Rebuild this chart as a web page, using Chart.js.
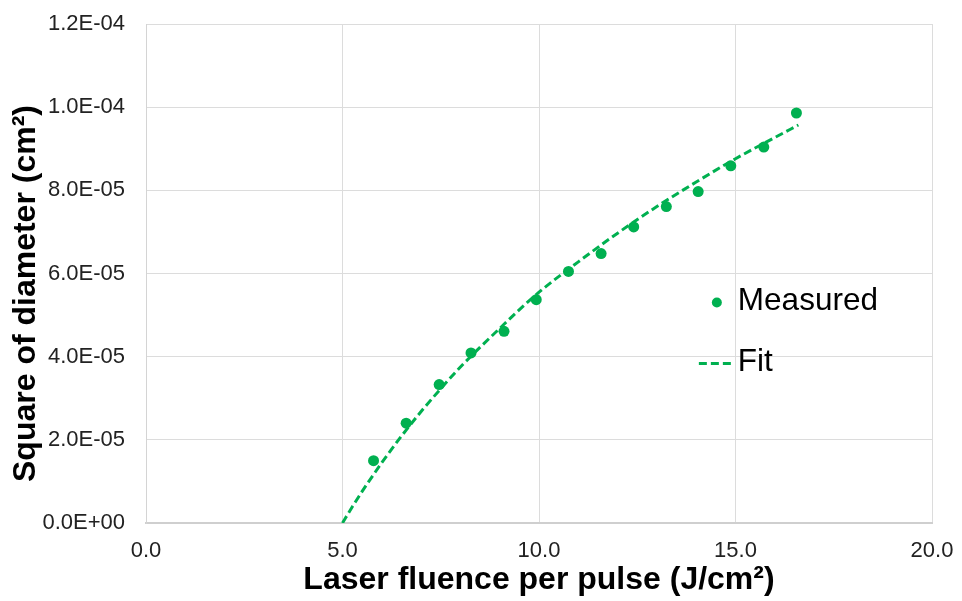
<!DOCTYPE html>
<html>
<head>
<meta charset="utf-8">
<title>Square of diameter vs laser fluence</title>
<script src="https://cdn.jsdelivr.net/npm/chart.js@4.4.1/dist/chart.umd.min.js"></script>
<style>
    html, body { margin: 0; padding: 0; background: #ffffff; }
    canvas { display: block; }
</style>
</head>
<body>
<canvas id="fluenceChart" width="962" height="601"></canvas>
<script>
// measured crater data: fluence (J/cm²) and squared diameter (cm²)
var fluence = [5.79, 6.62, 7.46, 8.27, 9.11, 9.93, 10.75, 11.58, 12.41, 13.24, 14.05, 14.88, 15.72, 16.55];
var diameterSq = [1.50e-5, 2.40e-5, 3.33e-5, 4.09e-5, 4.61e-5, 5.37e-5, 6.05e-5, 6.48e-5, 7.12e-5, 7.61e-5, 7.97e-5, 8.59e-5, 9.04e-5, 9.86e-5];

// fitted curve, sampled along its length
var fitFluence = [5.0, 5.25, 5.5, 5.75, 6.0, 6.5, 7.0, 7.5, 8.0, 9.0, 10.0, 11.0, 12.0, 13.0, 14.0, 15.0, 16.0, 16.6];
var fitDiameterSq = [0, 0.39e-5, 0.76e-5, 1.11e-5, 1.45e-5, 2.09e-5, 2.68e-5, 3.23e-5, 3.75e-5, 4.68e-5, 5.55e-5, 6.28e-5, 6.97e-5, 7.61e-5, 8.20e-5, 8.76e-5, 9.27e-5, 9.57e-5];

var xTicks = [0, 5, 10, 15, 20];
var yTicks = [0, 2e-5, 4e-5, 6e-5, 8e-5, 1.0e-4, 1.2e-4];

var seriesLabels = ['Measured', 'Fit'];
var xTitle = 'Laser fluence per pulse (J/cm²)';
var yTitle = 'Square of diameter (cm²)';

var green = '#00b050';
var gridColor = '#dcdcdc';
var fontName = '"Liberation Sans", Arial, sans-serif';

var toPoints = function (xs, ys) {
    return xs.map(function (x, i) { return { x: x, y: ys[i] }; });
};

// 1.2E-04 style labels
var sciLabel = function (v) {
    if (Math.abs(v) < 1e-12) return '0.0E+00';
    var parts = v.toExponential(1).split('e');
    var exp = parseInt(parts[1], 10);
    return parts[0] + 'E' + (exp < 0 ? '-' : '+') + String(Math.abs(exp)).padStart(2, '0');
};

// legend inside the plot and the rotated y title
var overlayPlugin = {
    id: 'overlay',
    afterDraw: function (chart) {
        var ctx = chart.ctx;
        var area = chart.chartArea;
        var sets = chart.data.datasets;

        ctx.save();
        ctx.fillStyle = '#000000';
        ctx.font = 'bold 32px ' + fontName;
        ctx.textAlign = 'center';
        ctx.textBaseline = 'middle';
        ctx.translate(26, (area.top + area.bottom) / 2 + 20);
        ctx.rotate(-Math.PI / 2);
        ctx.fillText(yTitle, 0, 0);
        ctx.restore();

        var lx = area.left + 0.753 * (area.right - area.left);
        var ly = area.top + 0.556 * (area.bottom - area.top);
        ctx.save();
        ctx.font = '31.5px ' + fontName;
        ctx.textAlign = 'left';
        ctx.textBaseline = 'middle';

        ctx.fillStyle = sets[0].backgroundColor;
        ctx.beginPath();
        ctx.arc(lx - 21, ly + 1, 5, 0, Math.PI * 2);
        ctx.fill();
        ctx.fillStyle = '#000000';
        ctx.fillText(sets[0].label, lx, ly);

        ctx.strokeStyle = sets[1].borderColor;
        ctx.lineWidth = sets[1].borderWidth;
        ctx.setLineDash(sets[1].borderDash);
        ctx.beginPath();
        ctx.moveTo(lx - 39, ly + 62);
        ctx.lineTo(lx - 3, ly + 62);
        ctx.stroke();
        ctx.setLineDash([]);
        ctx.fillText(sets[1].label, lx, ly + 61);
        ctx.restore();
    }
};

var ctx = document.getElementById('fluenceChart').getContext('2d');
window.fluenceChart = new Chart(ctx, {
    type: 'scatter',
    data: {
        datasets: [
            {
                label: seriesLabels[0],
                data: toPoints(fluence, diameterSq),
                backgroundColor: green,
                borderWidth: 0,
                pointRadius: 5.5,
                order: 1
            },
            {
                type: 'line',
                label: seriesLabels[1],
                data: toPoints(fitFluence, fitDiameterSq),
                borderColor: green,
                backgroundColor: green,
                borderWidth: 3,
                borderDash: [8, 4],
                pointRadius: 0,
                fill: false,
                cubicInterpolationMode: 'monotone',
                order: 0
            }
        ]
    },
    options: {
        responsive: false,
        animation: false,
        layout: {
            padding: { top: 24, right: 30, bottom: 0, left: 0 }
        },
        plugins: {
            legend: { display: false },
            tooltip: { enabled: false }
        },
        scales: {
            x: {
                type: 'linear',
                min: xTicks[0],
                max: xTicks[xTicks.length - 1],
                afterBuildTicks: function (scale) {
                    scale.ticks = xTicks.map(function (v) { return { value: v }; });
                },
                afterFit: function (scale) {
                    scale.height = 78;
                    scale.paddingLeft = 0;
                    scale.paddingRight = 0;
                },
                grid: { color: gridColor, drawTicks: false },
                border: { color: '#cfcfcf', width: 2 },
                ticks: {
                    padding: 15,
                    color: '#222222',
                    font: { family: fontName, size: 22 },
                    callback: function (v) { return v.toFixed(1); }
                },
                title: {
                    display: true,
                    text: xTitle,
                    color: '#000000',
                    font: { family: fontName, size: 32, weight: 'bold' },
                    padding: { top: 0, bottom: 2 }
                }
            },
            y: {
                type: 'linear',
                min: yTicks[0],
                max: yTicks[yTicks.length - 1],
                afterBuildTicks: function (scale) {
                    scale.ticks = yTicks.map(function (v) { return { value: v }; });
                },
                afterFit: function (scale) {
                    scale.width = 146;
                    scale.paddingTop = 0;
                    scale.paddingBottom = 0;
                },
                grid: { color: gridColor, drawTicks: false },
                border: { color: '#d4d4d4', width: 1 },
                ticks: {
                    padding: 21,
                    color: '#222222',
                    font: { family: fontName, size: 22 },
                    callback: function (v) { return sciLabel(v); }
                }
            }
        }
    },
    plugins: [overlayPlugin]
});
</script>
</body>
</html>
